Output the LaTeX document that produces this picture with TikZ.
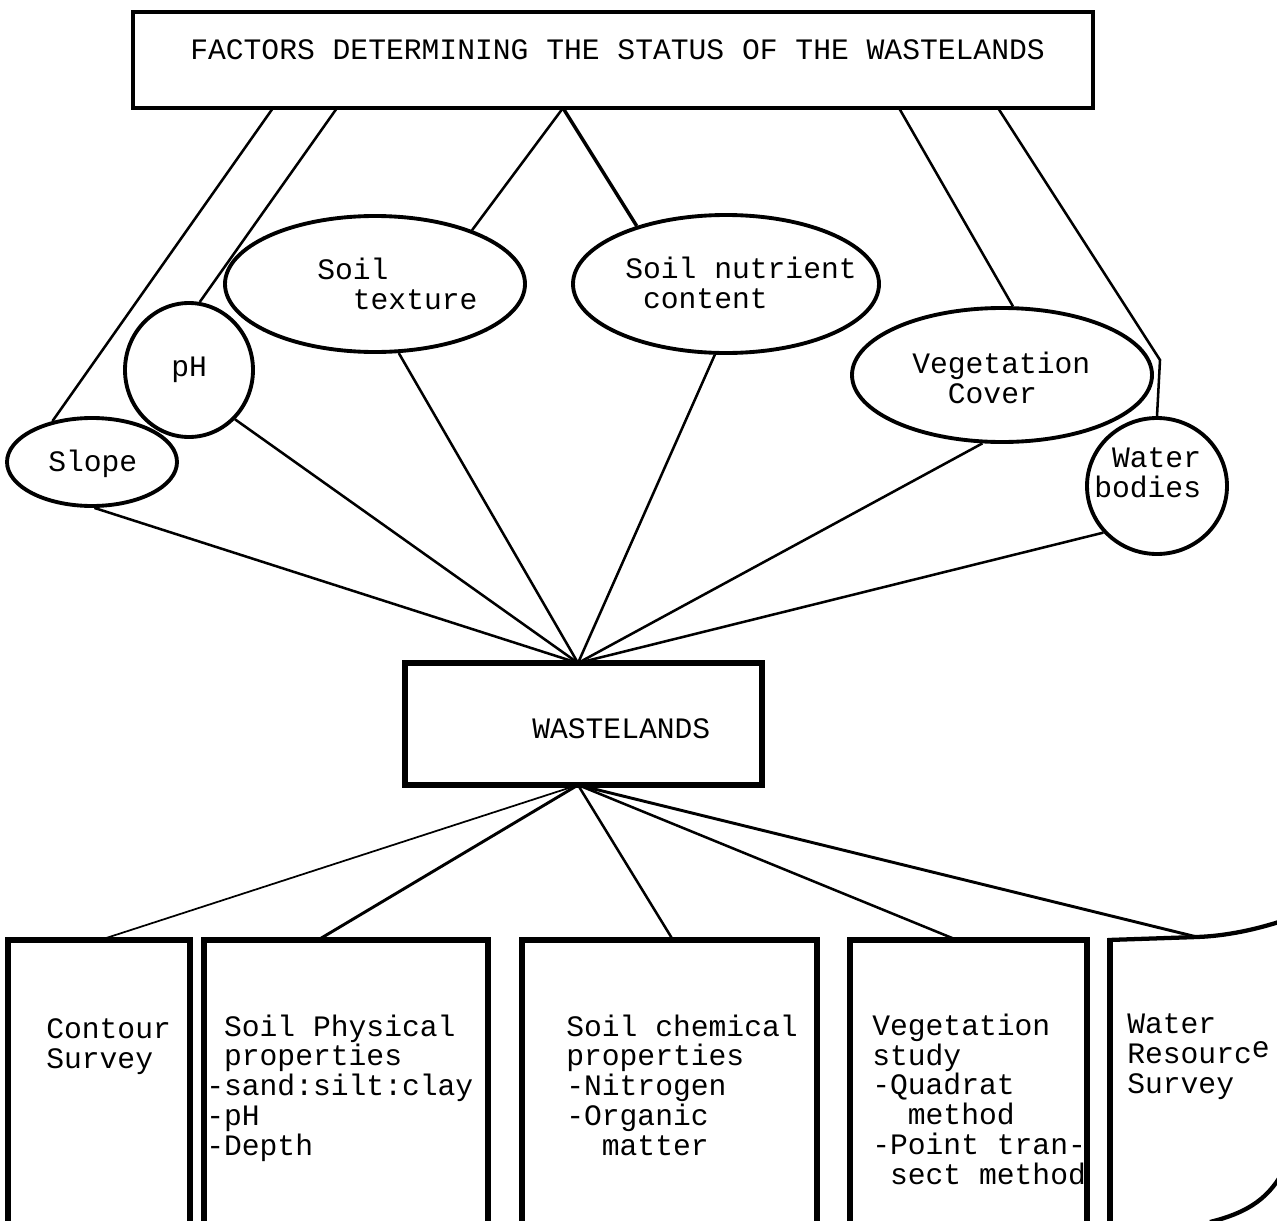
\documentclass[tikz,border=0pt]{standalone}
\usepackage{fontspec}
\newfontfamily\typewriter{Liberation Mono}
\usetikzlibrary{shapes.geometric,calc}

\begin{document}
\begin{tikzpicture}[x=0.75pt,y=-0.75pt,
  lbl/.style={font=\typewriter\fontsize{22.25}{22.3}\selectfont, inner sep=0pt, anchor=base west, align=left},
  oval/.style={draw, ellipse, line width=2.9pt, inner sep=0pt},
  osize/.style 2 args={minimum width={#1*1.5pt}, minimum height={#2*1.5pt}},
  frame/.style={draw, line width=3.4pt, inner sep=0pt},
  fsize/.style 2 args={minimum width={#1*0.75pt}, minimum height={#2*0.75pt}},
  column/.style={draw, line width=4.4pt, inner sep=0pt},
  link/.style={line width=1.9pt},
  thinlink/.style={line width=1.3pt}]

\useasboundingbox (0,0) rectangle (1277,1220);
\fill[white] (0,0) rectangle (1277,1220);

% title box
\node[frame, fsize={960}{96}] (top) at (613,60) {};
\node[lbl] (toptext) at (190,60) {FACTORS DETERMINING THE STATUS OF THE WASTELANDS};

% factor ovals
\node[oval, osize={85}{44}] (slope) at (92,462) {};
\node[oval, osize={64}{67}] (ph) at (189,370) {};
\node[oval, osize={150}{68}] (texture) at (375,284) {};
\node[oval, osize={153}{69}] (nutrient) at (726,284) {};
\node[oval, osize={150}{67}] (veg) at (1002,375) {};
\node[oval, osize={70}{68}] (water) at (1157,486) {};

% multi-line labels are placed by the baseline of their last line
\node[lbl] (slopetext) at (48,471) {Slope};
\node[lbl] (phtext) at (171,376) {pH};
\node[lbl] (texturetext) at (317,309) {Soil\\\phantom{xx}texture};
\node[lbl] (nutrienttext) at (625,308) {Soil nutrient\\\phantom{x}content};
\node[lbl] (vegtext) at (912,403) {Vegetation\\\phantom{xx}Cover};
\node[lbl] (watertext) at (1094,497) {\phantom{x}Water\\bodies};

% points on the lower edge of the title box
\coordinate (t1) at (273,108);
\coordinate (t2) at (337,108);
\coordinate (t3) at (563,108);
\coordinate (t4) at (899,108);
\coordinate (t5) at (998,108);
\coordinate (bend) at (1160,360);

\draw[link] (t1) -- (slope.134);
\draw[link] (t2) -- (ph.81);
\draw[link] (t3) -- (texture.29);
\draw[link, line width=2.6pt] (t3) -- (nutrient.147);
\draw[link] (t4) -- (veg.81);
\draw[link] (t5) -- (bend) -- (water.north);

% central box
\node[frame, line width=3.8pt, fsize={357}{122}] (waste) at (583.5,724) {};
\node[lbl] (wastetext) at (532,738) {WASTELANDS};
\coordinate (wt) at (578,663);
\coordinate (wb) at (578,785);

\draw[link] (slope.-87) -- (wt);
\draw[link] (ph.-47) -- (wt);
\draw[link] (texture.-71) -- (wt);
\draw[link] (nutrient.-99) -- (wt);
\draw[link] (veg.-106) -- (wt);
\draw[link] (water.-139) -- (wt);

% survey columns, running off the lower edge
\node[column, fsize={182}{320}] (box1) at (99,1100) {};
\node[column, fsize={284}{320}] (box2) at (346,1100) {};
\node[column, fsize={295}{320}] (box3) at (669.5,1100) {};
\node[column, fsize={237}{320}] (box4) at (968.5,1100) {};
\draw[line width=4.4pt] (1110,1260) -- (1110,938);
\draw[line width=3.2pt] (1108,940) -- (1197,937) .. controls (1225,936) and (1255,930) .. (1285,920);
\draw[line width=3.2pt] (1285,1168) .. controls (1270,1197) and (1250,1212) .. (1210,1222);

\coordinate (b1) at (100,940);
\coordinate (b2) at (318,940);
\coordinate (b3) at (673,940);
\coordinate (b4) at (957,940);
\coordinate (b5) at (1197,937);

\draw[thinlink] (wb) -- (b1);
\draw[link, line width=2.2pt] (wb) -- (b2);
\draw[link] (wb) -- (b3);
\draw[link] (wb) -- (b4);
\draw[link, line width=2.2pt] (wb) -- (b5);

\node[lbl] (box1text) at (46,1068) {Contour\\Survey};
\node[lbl] (box2text) at (206,1155) {\phantom{-}Soil Physical\\\phantom{-}properties\\-sand:silt:clay\\-pH\\-Depth};
\node[lbl] (box3text) at (566,1155) {Soil chemical\\properties\\-Nitrogen\\-Organic\\\phantom{-O}matter};
\node[lbl] (box4text) at (872,1184) {Vegetation\\study\\-Quadrat\\\phantom{-Q}method\\-Point tran-\\\phantom{-}sect method};
\node[lbl] (box5text) at (1127,1093) {Water\\Resourc\raisebox{4pt}{e}\\Survey};

\end{tikzpicture}
\end{document}
